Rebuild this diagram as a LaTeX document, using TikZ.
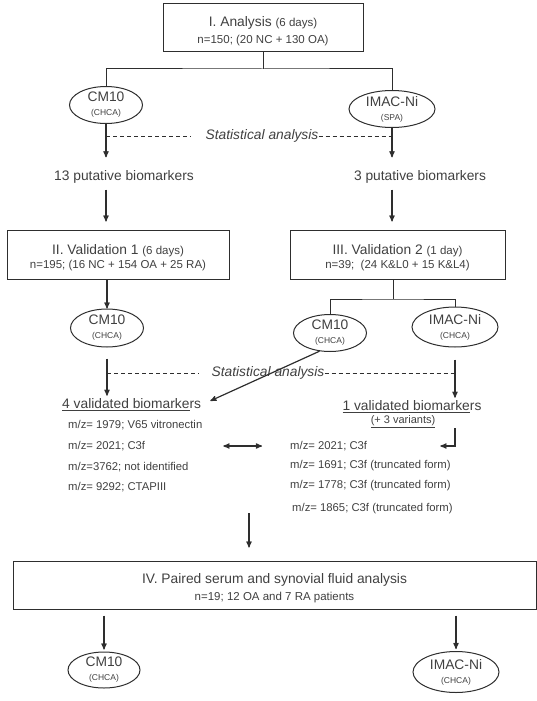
\documentclass[tikz,border=0pt]{standalone}
\usepackage{fontspec}
\setmainfont{Liberation Sans}
\usetikzlibrary{arrows}
\usetikzlibrary{shapes.geometric}
\usepackage{xcolor}
\definecolor{ink}{HTML}{404040}
\definecolor{rulecol}{HTML}{2E2E2E}
\newcommand{\fsTitle}{\fontsize{13.8}{16}\selectfont}
\newcommand{\fsSub}{\fontsize{11.5}{13}\selectfont}
\newcommand{\fsMz}{\fontsize{11.3}{13}\selectfont}
\newcommand{\fsTiny}{\fontsize{8.5}{10}\selectfont}
\newcommand{\topstrut}{\rule{0pt}{17pt}}

\tikzset{
 stage/.style={draw=rulecol, line width=1pt, text=ink, align=center, inner sep=0},
 column/.style={draw=rulecol, ellipse, line width=1pt, text=ink, align=center, inner sep=0},
 lbl/.style={text=ink, inner sep=0},
 arr/.style={draw=rulecol, line width=1.2pt, ->, >=stealth'},
 link/.style={draw=rulecol, line width=1pt},
 stat/.style={draw=rulecol, line width=0.8pt, dash pattern=on 4pt off 3pt}
}

\begin{document}
\begin{tikzpicture}[x=1pt,y=-1pt]
\useasboundingbox (0,0) rectangle (537,701);

% stage I
\node[stage, minimum width=200pt, minimum height=48pt] (an) at (263,28)
 {\topstrut\fsTitle I. Analysis {\fsSub (6 days)}\\[5pt] \fsSub n=150; (20 NC + 130 OA)};
\node[column, minimum width=73pt, minimum height=37pt] (cmA) at (106,105) {\fsTitle CM10\\[2pt] \fsTiny (CHCA)};
\node[column, minimum width=86pt, minimum height=37pt] (imA) at (392,109) {\fsTitle IMAC-Ni\\[2pt] \fsTiny (SPA)};
\coordinate (forkA) at (263,69);
\draw[link] (an) -- (forkA);
\draw[link] (cmA.north) |- (forkA) -| (imA.north);

\node[lbl, font=\fsTitle\itshape] (statA) at (262,136) {Statistical analysis};
\draw[stat] (cmA.south |- statA) -- ([xshift=-15pt]statA.west);
\draw[stat] (statA.east) -- (imA.south |- statA);

\node[lbl, font=\fsTitle] (putA) at (124,177) {13 putative biomarkers};
\node[lbl, font=\fsTitle] (putB) at (420,177) {3 putative biomarkers};
\draw[arr, shorten >=13pt] (cmA) -- (cmA.south |- putA.north);
\draw[arr, shorten >=13pt] (imA) -- (imA.south |- putB.north);

% validation 1 and 2
\node[stage, minimum width=222pt, minimum height=49pt] (vaA) at (118,254.5)
 {\topstrut\fsTitle II. Validation 1 {\fsSub (6 days)}\\[2pt] \fsSub n=195; (16 NC + 154 OA + 25 RA)};
\node[stage, minimum width=215pt, minimum height=49pt] (vaB) at (397.5,254.5)
 {\topstrut\fsTitle III. Validation 2 {\fsSub (1 day)}\\[2pt] \fsSub n=39;~ (24 K\&L0 + 15 K\&L4)};
\draw[arr, shorten <=6pt, shorten >=8pt] (putA.south -| cmA) -- (vaA.north -| cmA);
\draw[arr, shorten <=6pt, shorten >=8pt] (putB.south -| imA) -- (vaB.north -| imA);

\node[column, minimum width=73pt, minimum height=38pt] (cmB) at (107,328) {\fsTitle CM10\\[2pt] \fsTiny (CHCA)};
\node[column, minimum width=73pt, minimum height=37pt] (cmC) at (330,333) {\fsTitle CM10\\[2pt] \fsTiny (CHCA)};
\node[column, minimum width=86pt, minimum height=40pt] (imC) at (455,327) {\fsTitle IMAC-Ni\\[2pt] \fsTiny (CHCA)};
\draw[arr] (vaA.south -| cmB) -- (cmB.north);
\coordinate (forkB) at (393,299);
\draw[link] (vaB.south -| forkB) -- (forkB);
\draw[link] (cmC.north) |- (forkB) -| (imC.north);

\node[lbl, font=\fsTitle\itshape] (statB) at (268,373) {Statistical analysis};
\draw[stat] (cmB.south |- statB) -- ([xshift=-12pt]statB.west);
\draw[stat] (statB.east) -- (imC.south |- statB);

% validated biomarkers
\node[lbl, font=\fsTitle, anchor=west] (valA) at (62,405) {\underline{4 validated biomarke}rs};
\node[lbl, font=\fsTitle] (valB) at (412,407) {\underline{1 validated biomarke}rs};
\node[lbl, font=\fontsize{11}{13}\selectfont] (varB) at (403,422) {\underline{(+ 3 variants)}};
\draw[arr, shorten <=11pt, shorten >=3pt] (cmB) -- (cmB.south |- valA.north);
\draw[arr, shorten <=12pt, shorten >=3pt] (imC) -- (imC.south |- valB.north);
\draw[arr, shorten >=10pt] (cmC.240) -- (valA.east);

\node[lbl, font=\fsMz, anchor=west] (mzA1) at (68,425) {m/z= 1979; V65 vitronectin};
\node[lbl, font=\fsMz, anchor=west] (mzA2) at (68,446) {m/z= 2021; C3f};
\node[lbl, font=\fsMz, anchor=west] (mzA3) at (68,467) {m/z=3762; not identified};
\node[lbl, font=\fsMz, anchor=west] (mzA4) at (68,487) {m/z= 9292; CTAPIII};
\node[lbl, font=\fsMz, anchor=west] (mzB1) at (290,446) {m/z= 2021; C3f};
\node[lbl, font=\fsMz, anchor=west] (mzB2) at (290,466) {m/z= 1691; C3f (truncated form)};
\node[lbl, font=\fsMz, anchor=west] (mzB3) at (290,486) {m/z= 1778; C3f (truncated form)};
\node[lbl, font=\fsMz, anchor=west] (mzB4) at (292,509) {m/z= 1865; C3f (truncated form)};
\draw[arr, <->, shorten <=78pt, shorten >=28pt] (mzA2.east) -- (mzB1.west);
\draw[arr, shorten >=73pt] (varB.south -| imC) |- (mzB1.east);

% stage IV
\node[stage, minimum width=523pt, minimum height=48pt] (pa) at (274.5,585)
 {\topstrut\fsTitle IV. Paired serum and synovial fluid analysis\\[5pt] \fsSub n=19; 12 OA and 7 RA patients};
\coordinate (gap) at (249,513);
\draw[arr, shorten >=13pt] (gap) -- (gap |- pa.north);

\node[column, minimum width=72pt, minimum height=36pt] (cmD) at (104,670) {\fsTitle CM10\\[2pt] \fsTiny (CHCA)};
\node[column, minimum width=86pt, minimum height=41pt] (imD) at (456,672) {\fsTitle IMAC-Ni\\[2pt] \fsTiny (CHCA)};
\draw[arr, shorten <=6pt, shorten >=2pt] (pa.south -| cmD) -- (cmD.north);
\draw[arr, shorten <=6pt, shorten >=2pt] (pa.south -| imD) -- (imD.north);
\end{tikzpicture}
\end{document}
